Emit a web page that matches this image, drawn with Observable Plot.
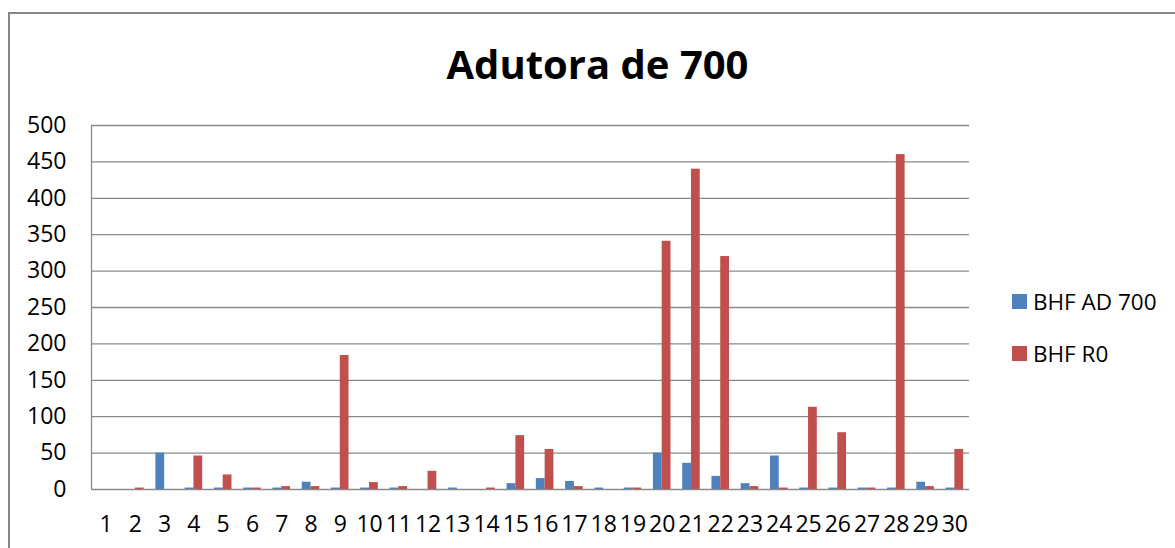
<!DOCTYPE html>
<html>
<head>
<meta charset="utf-8">
<script src="https://cdn.jsdelivr.net/npm/d3@7"></script>
<script src="https://cdn.jsdelivr.net/npm/@observablehq/plot@0.6"></script>
<style>
  html, body { margin: 0; padding: 0; background: #fff; overflow: hidden; }
  #wrap { position: relative; width: 1175px; height: 548px; font-family: "Open Sans", sans-serif; }
  #frame { position: absolute; left: 8px; top: 12px; width: 1300px; height: 700px;
           border-left: 2px solid #878787; border-top: 2px solid #878787; box-sizing: border-box; }
  #title { position: absolute; left: 0; width: 1195px; top: 44px; text-align: center; line-height: 1;
           font-weight: bold; font-size: 40px; color: #000; }
  #chart { position: absolute; left: 0; top: 0; }
  #legend { position: absolute; left: 1012px; top: 275px; font-size: 22.5px; color: #000; }
  .item { display: flex; align-items: center; height: 52px; }
  .sw { width: 15px; height: 15px; margin-right: 6px; }
</style>
</head>
<body>
<div id="wrap">
  <div id="frame"></div>
  <div id="chart"></div>
  <div id="title"></div>
  <div id="legend"></div>
</div>
<script>
const title = "Adutora de 700";
const days = [1,2,3,4,5,6,7,8,9,10,11,12,13,14,15,16,17,18,19,20,21,22,23,24,25,26,27,28,29,30];
const seriesNames = ["BHF AD 700", "BHF R0"];
const seriesColors = ["#4F81BD", "#C0504D"];
const bhfAd700 = [0,0,50,2,2,2,2,10,2,2,2,0,2,0,8,15,11,2,2,50,36,18,8,46,2,2,2,2,10,2];
const bhfR0 = [0,2,0,46,20,2,4,4,184,9.5,4,25,0,2,74,55,4,0,2,341,440,320,4,2,113,78,2,460,4,55];
const yTicks = [0,50,100,150,200,250,300,350,400,450,500];

const rows = [];
days.forEach((d, i) => {
  rows.push({day: d, series: seriesNames[0], value: bhfAd700[i], k: 0});
  rows.push({day: d, series: seriesNames[1], value: bhfR0[i], k: 1});
});
const half = 0.3; // each bar is 0.3 of a day step

document.getElementById("title").textContent = title;

const chart = Plot.plot({
  width: 1175,
  height: 548,
  marginLeft: 91,
  marginRight: 206,
  marginTop: 125,
  marginBottom: 59,
  style: {fontFamily: "'Open Sans', sans-serif", fontSize: "23px", color: "#000", background: "transparent", overflow: "visible"},
  x: {domain: [0.5, 30.5]},
  y: {domain: [0, 500]},
  color: {domain: seriesNames, range: seriesColors},
  marks: [
    Plot.ruleY(yTicks, {stroke: "#8a8a8a", strokeWidth: 1.3, strokeOpacity: 1}),
    Plot.ruleX([0.5], {y1: 0, y2: 500, stroke: "#8a8a8a", strokeWidth: 1.3}),
    Plot.rectY(rows, {
      x1: d => d.day - half + d.k * half,
      x2: d => d.day + d.k * half,
      y1: 0,
      y2: "value",
      fill: "series"
    }),
    Plot.axisX({ticks: days, tickFormat: d => String(d), tickSize: 0, tickPadding: 26, label: null, fill: "#000", fontSize: 23}),
    Plot.axisY({ticks: yTicks, tickFormat: d => String(d), tickSize: 0, tickPadding: 25, label: null, fill: "#000", fontSize: 23})
  ]
});
document.getElementById("chart").appendChild(chart);

const legend = document.getElementById("legend");
seriesNames.forEach((name, i) => {
  const item = document.createElement("div");
  item.className = "item";
  const sw = document.createElement("div");
  sw.className = "sw";
  sw.style.background = seriesColors[i];
  const t = document.createElement("span");
  t.textContent = name;
  item.appendChild(sw);
  item.appendChild(t);
  legend.appendChild(item);
});
</script>
</body>
</html>
